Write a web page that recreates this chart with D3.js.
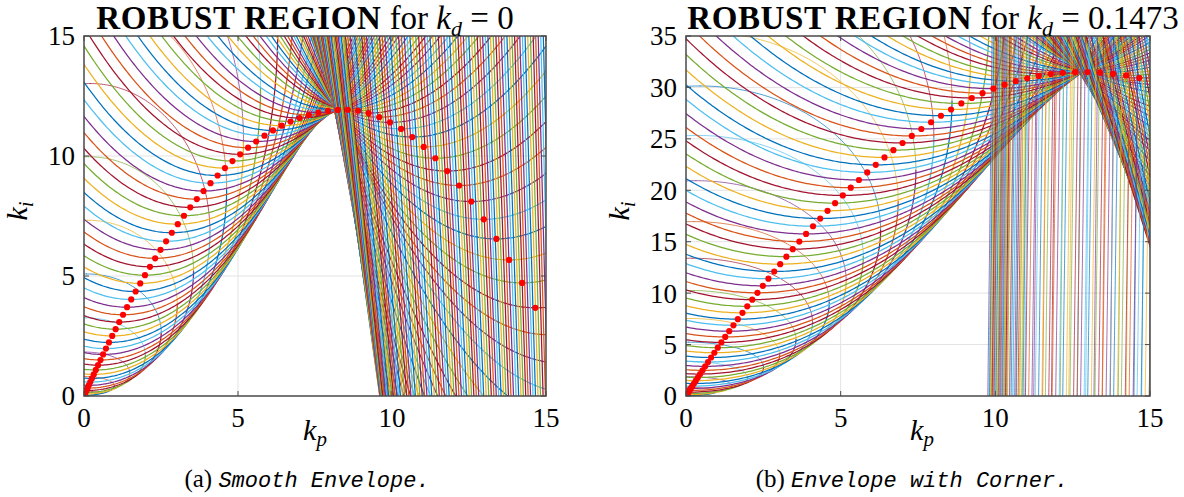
<!DOCTYPE html>
<html>
<head>
<meta charset="utf-8">
<script src="https://cdn.jsdelivr.net/npm/d3@7"></script>
<style>
  body { margin: 0; background: #fff; }
  svg text { font-family: "Liberation Serif", "DejaVu Serif", serif; fill: #000; }
</style>
</head>
<body>
<svg id="fig" width="1184" height="497"></svg>
<script>
// Plant G(s) = K / (s (s + p)^2). At every frequency the controller value
// C(jw) = kp + j(kd w - ki/w) has to stay outside the disk of radius
// rho(w)*|1/G(jw)| centred at -1/G(jw); in the (kp, ki) plane each disk
// becomes an axis-aligned ellipse.
const plantGain = 1694;      // K
const plantPole = 67.1;      // p (double pole)
// disk radius ratio rho(w), linear between the listed frequencies
const weightFreq = [0, 8, 9.5, 10.7, 11.5, 12.4, 13, 13.8, 14.2, 16, 18, 20, 22, 24, 26, 28, 30, 32, 34, 36, 38, 42,
                    60, 80, 90, 93, 96, 100, 104, 108, 112, 116, 125];
const weightMag  = [0.9136, 0.9136, 0.9131, 0.9124, 0.9126, 0.9132, 0.9136, 0.9140, 0.9141,
                    0.9166, 0.9187, 0.9197, 0.9193, 0.9166, 0.9132, 0.9097, 0.9068, 0.9045, 0.9028, 0.9017, 0.9011, 0.8950,
                    0.9300, 0.9550, 0.9700, 0.9744, 0.9806, 0.9830, 0.9833, 0.9823, 0.9814, 0.9811, 0.9790];
// frequency grid, rad/s
const omega = d3.range(1, 626).map(j => +(0.2 * j).toFixed(1));
// derivative gains of the two panels
const kdValues = [0, 0.1473];
const kdLabels = ["0", "0.1473"];
// axis ticks
const kpTicks = [0, 5, 10, 15];
const kiTicksA = [0, 5, 10, 15];
const kiTicksB = [0, 5, 10, 15, 20, 25, 30, 35];
const kiLimits = [15, 35];
const captionTags = ["(a) ", "(b) "];
const captionTexts = ["Smooth Envelope.", "Envelope with Corner."];

const colorOrder = ["#0072BD", "#D95319", "#EDB120", "#7E2F8E", "#77AC30", "#4DBEEE", "#A2142F"];
const rhoOf = d3.scaleLinear().domain(weightFreq).range(weightMag).clamp(true);

const svg = d3.select("#fig");

const layout = [
  { x0: 84, x1: 546, y0: 36, y1: 396, titleX: 305, labelX: 315, capX: 307, ylabX: 27 },
  { x0: 686, x1: 1150, y0: 36, y1: 396, titleX: 933, labelX: 922, capX: 912, ylabX: 629 }
];

function ellipseFor(w, kd) {
  const K = plantGain, p = plantPole;
  const a = 2 * p * w * w / K;                            // Re(-1/G)
  const b = w * w * (p * p - w * w) / K + kd * w * w;     // kd w^2 - w Im(-1/G)
  const rx = rhoOf(w) * w * (p * p + w * w) / K;          // rho |1/G|
  return { a, b, rx, ry: w * rx };
}

// sub-interval of [t1,t2] where the monotone function f lies in [lo,hi]
function clipMono(iv, f, lo, hi) {
  const [t1, t2] = iv;
  const f1 = f(t1), f2 = f(t2);
  const inc = f2 >= f1;
  if (Math.max(f1, f2) < lo || Math.min(f1, f2) > hi) return null;
  const solve = target => {
    let A = t1, B = t2;
    for (let i = 0; i < 64; i++) {
      const M = (A + B) / 2;
      if ((f(M) < target) === inc) A = M; else B = M;
    }
    return (A + B) / 2;
  };
  let s1 = t1, s2 = t2;
  if (inc) { if (f1 < lo) s1 = solve(lo); if (f2 > hi) s2 = solve(hi); }
  else { if (f1 > hi) s1 = solve(hi); if (f2 < lo) s2 = solve(lo); }
  return [s1, s2];
}

function arcPath(e, half, box, xs, ys) {
  const P = Math.PI;
  const quarters = half === "lower"
    ? [[P, 1.5 * P], [1.5 * P, 2 * P]]
    : [[0, 0.5 * P], [0.5 * P, P]];
  const X = t => e.a + e.rx * Math.cos(t);
  const Y = t => e.b + e.ry * Math.sin(t);
  const line = d3.line();
  let d = "";
  for (const q of quarters) {
    let iv = clipMono(q, X, box.x0, box.x1);
    if (!iv) continue;
    iv = clipMono(iv, Y, box.y0, box.y1);
    if (!iv) continue;
    let len = 0, prev = null;
    for (let i = 0; i <= 24; i++) {
      const t = iv[0] + (iv[1] - iv[0]) * i / 24;
      const pt = [xs(X(t)), ys(Y(t))];
      if (prev) len += Math.hypot(pt[0] - prev[0], pt[1] - prev[1]);
      prev = pt;
    }
    const n = Math.max(6, Math.min(500, Math.ceil(len / 2.5)));
    const pts = d3.range(n + 1).map(i => {
      const t = iv[0] + (iv[1] - iv[0]) * i / n;
      return [+xs(X(t)).toFixed(2), +ys(Y(t)).toFixed(2)];
    });
    d += line(pts);
  }
  return d;
}

function drawPanel(k) {
  const L = layout[k];
  const kd = kdValues[k];
  const kiMax = kiLimits[k];
  const kiTicks = k === 0 ? kiTicksA : kiTicksB;
  const xs = d3.scaleLinear().domain([0, 15]).range([L.x0, L.x1]);
  const ys = d3.scaleLinear().domain([0, kiMax]).range([L.y1, L.y0]);
  const g = svg.append("g");

  const clipId = "clip" + k;
  svg.append("clipPath").attr("id", clipId)
    .append("rect").attr("x", L.x0).attr("y", L.y0)
    .attr("width", L.x1 - L.x0).attr("height", L.y1 - L.y0);

  // grid
  const grid = g.append("g").attr("stroke", "#e3e3e3").attr("stroke-width", 1);
  kpTicks.slice(1, -1).forEach(v => grid.append("line")
    .attr("x1", xs(v)).attr("x2", xs(v)).attr("y1", L.y0).attr("y2", L.y1));
  kiTicks.slice(1, -1).forEach(v => grid.append("line")
    .attr("y1", ys(v)).attr("y2", ys(v)).attr("x1", L.x0).attr("x2", L.x1));

  // ellipse arcs, one frequency after another
  const marks = g.append("g").attr("clip-path", `url(#${clipId})`)
    .attr("fill", "none").attr("stroke-linecap", "round").attr("stroke-linejoin", "round");
  const mx = 4 / (xs(1) - xs(0)), my = 4 / (ys(0) - ys(1));
  const box = { x0: -mx, x1: 15 + mx, y0: -my, y1: kiMax + my };
  const lowest = [];
  omega.forEach((w, i) => {
    const j = i + 1;
    const e = ellipseFor(w, kd);
    const dLow = arcPath(e, "lower", box, xs, ys);
    if (dLow) marks.append("path").attr("d", dLow)
      .attr("stroke", colorOrder[(2 * j + 3) % 7]).attr("stroke-width", 1.25);
    const dUp = arcPath(e, "upper", box, xs, ys);
    if (dUp) marks.append("path").attr("d", dUp)
      .attr("stroke", colorOrder[(2 * j + 4) % 7]).attr("stroke-width", 0.7);
    const bottom = e.b - e.ry;
    if (e.a >= 0 && e.a <= 15 && bottom >= 0 && bottom <= kiMax) lowest.push([e.a, bottom]);
  });
  // lowest point of every ellipse
  marks.append("g").attr("fill", "#ff0000").attr("stroke", "none")
    .selectAll("circle").data(lowest).join("circle")
    .attr("cx", d => xs(d[0])).attr("cy", d => ys(d[1])).attr("r", 3.1);

  // frame and inward ticks
  const ax = g.append("g").attr("stroke", "#4a4a4a").attr("fill", "none");
  ax.append("rect").attr("x", L.x0).attr("y", L.y0)
    .attr("width", L.x1 - L.x0).attr("height", L.y1 - L.y0).attr("stroke-width", 1.5);
  kpTicks.forEach(v => {
    ax.append("line").attr("x1", xs(v)).attr("x2", xs(v)).attr("y1", L.y1).attr("y2", L.y1 - 5);
    ax.append("line").attr("x1", xs(v)).attr("x2", xs(v)).attr("y1", L.y0).attr("y2", L.y0 + 5);
  });
  kiTicks.forEach(v => {
    ax.append("line").attr("y1", ys(v)).attr("y2", ys(v)).attr("x1", L.x0).attr("x2", L.x0 + 5);
    ax.append("line").attr("y1", ys(v)).attr("y2", ys(v)).attr("x1", L.x1).attr("x2", L.x1 - 5);
  });

  // tick labels
  const tl = g.append("g").style("font-size", "27px");
  kpTicks.forEach(v => tl.append("text").attr("x", xs(v)).attr("y", L.y1 + 31)
    .attr("text-anchor", "middle").text(v));
  kiTicks.forEach(v => tl.append("text").attr("x", L.x0 - 9).attr("y", ys(v)).attr("dy", "0.35em")
    .attr("text-anchor", "end").text(v));

  // title
  const t = g.append("text").attr("x", L.titleX).attr("y", 29)
    .attr("text-anchor", "middle").style("font-size", "33px");
  t.append("tspan").attr("font-weight", "bold").style("letter-spacing", "0.6px").text("ROBUST REGION");
  t.append("tspan").text(" for ");
  t.append("tspan").attr("font-style", "italic").text("k");
  t.append("tspan").attr("font-style", "italic").style("font-size", "22px").attr("dy", 7).text("d");
  t.append("tspan").attr("dy", -7).text(" = " + kdLabels[k]);

  // axis labels
  const xl = g.append("text").attr("x", L.labelX).attr("y", L.y1 + 44)
    .attr("text-anchor", "middle").style("font-size", "30px");
  xl.append("tspan").attr("font-style", "italic").text("k");
  xl.append("tspan").attr("font-style", "italic").style("font-size", "21px").attr("dy", 6).text("p");
  const yl = g.append("text")
    .attr("transform", `translate(${L.ylabX},${(L.y0 + L.y1) / 2 - 5}) rotate(-90)`)
    .attr("text-anchor", "middle").style("font-size", "30px");
  yl.append("tspan").attr("font-style", "italic").text("k");
  yl.append("tspan").attr("font-style", "italic").style("font-size", "21px").attr("dy", 6).text("i");

  // caption
  const c = g.append("text").attr("x", L.capX).attr("y", 487)
    .attr("text-anchor", "middle").style("font-size", "25px");
  c.append("tspan").text(captionTags[k]);
  c.append("tspan").style("font-family", "'Liberation Mono', 'DejaVu Sans Mono', monospace")
    .attr("font-style", "italic").style("font-size", "22px").text(captionTexts[k]);
}

drawPanel(0);
drawPanel(1);
</script>
</body>
</html>
